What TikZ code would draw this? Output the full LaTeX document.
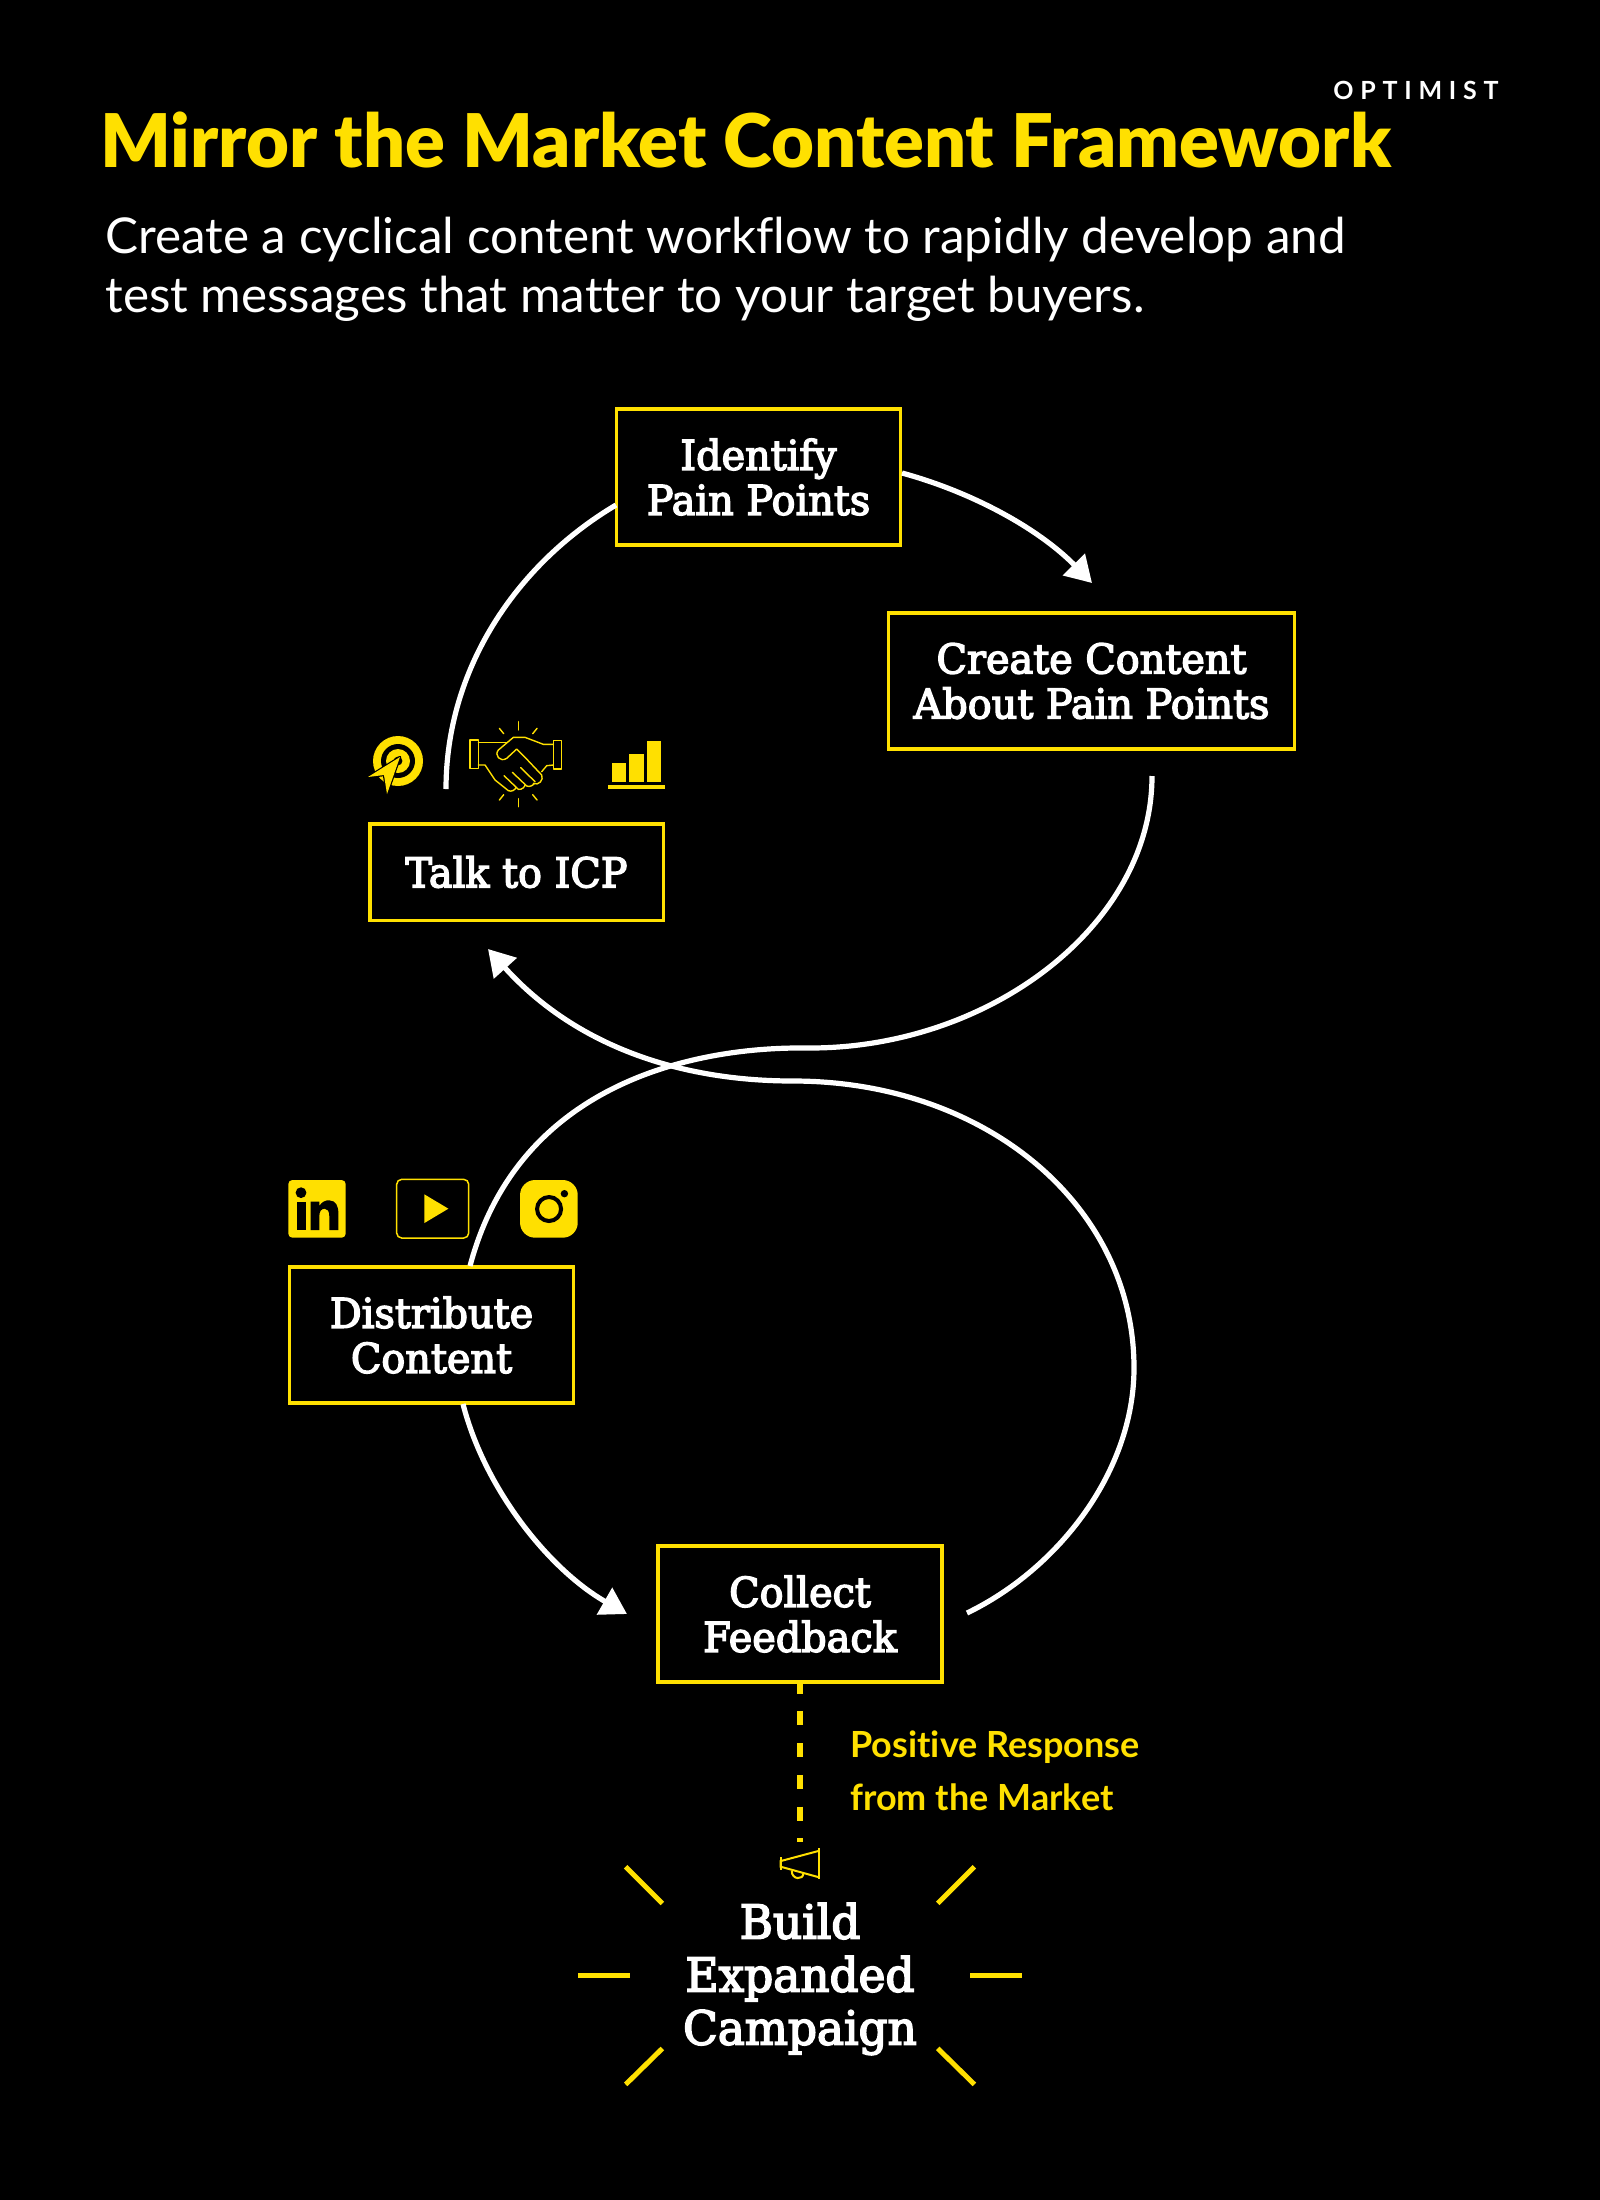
\documentclass[tikz,border=0pt]{standalone}
\usepackage{fontspec}
\usetikzlibrary{arrows.meta}
\setmainfont[Ligatures=CommonOff]{Lato}
\newfontfamily\boxfont[FakeBold=3.5, FakeStretch=0.97]{DejaVu Serif}
\newfontfamily\titlefont{Lato Black}
\newfontfamily\brandfont[LetterSpace=27]{Lato}
\definecolor{markyellow}{HTML}{FFE000}
\tikzset{
    stepbox/.style={draw=markyellow, line width=1.75pt, fill=black, text=white, align=center, minimum width=142pt, minimum height=68pt, inner sep=0pt, font=\boxfont\fontsize{20.5}{22.5}\selectfont},
    flow/.style={draw=white, line width=2.6pt},
    flowhead/.style={flow, -{Triangle[length=13pt, width=15pt]}},
    rayline/.style={draw=markyellow, line width=2.5pt},
    thinline/.style={draw=markyellow, line width=0.7pt, line join=round, line cap=round},
    iconfill/.style={fill=markyellow, draw=none}
}
\begin{document}
\begin{tikzpicture}[x=0.5pt, y=-0.5pt]
    \fill[black] (0,0) rectangle (1600,2200);
    \useasboundingbox (0,0) rectangle (1600,2200);

    % heading
    \node (title) [anchor=base west, inner sep=0pt, text=markyellow, font=\titlefont\fontsize{37}{40}\selectfont] at (100,167) {Mirror the Market Content Framework};
    \node (brand) [anchor=base west, inner sep=0pt, text=white, font=\brandfont\bfseries\fontsize{12.5}{14}\selectfont] at (1333,99) {OPTIMIST};
    \node (subone) [anchor=base west, inner sep=0pt, text=white, font=\fontsize{24.7}{29}\selectfont] at (105,253) {Create a cyclical content workflow to rapidly develop and};
    \node (subtwo) [anchor=base west, inner sep=0pt, text=white, font=\fontsize{24.7}{29}\selectfont] at (105,312) {test messages that matter to your target buyers.};

    % steps
    \node (identify) [stepbox] at (758.5,477) {Identify\\Pain Points};
    \node (create) [stepbox, minimum width=203pt] at (1091.5,681) {Create Content\\About Pain Points};
    \node (talk) [stepbox, minimum height=48.25pt, minimum width=146.75pt] at (516.5,872) {Talk to ICP};
    \node (distribute) [stepbox] at (431.5,1335) {Distribute\\Content};
    \node (collect) [stepbox] at (800,1614) {Collect\\Feedback};
    \node (campaign) [text=white, align=center, inner sep=0pt, font=\boxfont\fontsize{23.4}{26.5}\selectfont] at (800,1979) {Build\\Expanded\\Campaign};

    % free ends of the connectors
    \coordinate (talkup) at (446,789);
    \coordinate (identifyin) at (616,505);
    \coordinate (identifyout) at (902,473);
    \coordinate (createin) at (1092,583);
    \coordinate (createout) at (1152,776);
    \coordinate (distin) at (470,1266);
    \coordinate (distout) at (463,1404);
    \coordinate (collectin) at (627,1614);
    \coordinate (collectout) at (967,1613);
    \coordinate (talkin) at (488,949);

    \draw [flow] (talkup) .. controls (446,670) and (515,565) .. (identifyin);
    \draw [flowhead] (identifyout) .. controls (975,493) and (1040,530) .. (createin);
    \draw [flow] (createout) .. controls (1152,925) and (990,1048) .. (810,1048) .. controls (780,1048) and (530,1040) .. (distin);
    \draw [flowhead] (distout) .. controls (485,1490) and (550,1570) .. (collectin);
    \draw [flowhead] (collectout) .. controls (1060,1568) and (1134,1470) .. (1134,1368) .. controls (1134,1205) and (985,1081) .. (793,1081) .. controls (670,1081) and (570,1040) .. (talkin);
    \draw [draw=markyellow, line width=2.6pt, dash pattern=on 7pt off 8.85pt, dash phase=2pt] (collect.south) -- ++(0,158) coordinate (dashend);

    \node (response) [anchor=base west, inner sep=0pt, text=markyellow, align=left, font=\bfseries\fontsize{18}{26.5}\selectfont] at (850,1810) {Positive Response\\from the Market};

    % target icon
    \fill [iconfill] (398,761) circle (12.5pt);
    \fill [black] (398,761) circle (8.5pt);
    \fill [iconfill] (398,761) circle (6pt);
    \fill [black] (398,761) circle (2.2pt);
    \draw [black, line width=1.2pt, line join=round] (368,777) -- (400,757) -- (387,794) -- (384,775) -- cycle;
    \fill [iconfill] (368,777) -- (400,757) -- (387,794) -- (384,775) -- cycle;

    % handshake icon
    \begin{scope}[shift={(340,700)}, x=0.1667pt, y=-0.1667pt]
        \draw [thinline] (390,120) rectangle (415,205);
        \draw [thinline] (640,122) rectangle (665,207);
        \draw [thinline] (415,127) -- (500,127);
        \draw [thinline] (640,133) -- (610,133) -- (555,112) -- (520,112) -- (475,150) .. controls (462,165) and (480,188) .. (500,175) -- (530,147) -- (555,172) -- (605,225) .. controls (612,240) and (595,258) .. (580,250);
        \draw [thinline] (415,195) -- (435,195) -- (465,240) -- (505,272) .. controls (515,276) and (525,270) .. (528,262);
        \draw [thinline] (640,195) -- (620,197) -- (605,215);
        \draw [thinline] (492,227) -- (535,268) .. controls (545,270) and (555,260) .. (555,255);
        \draw [thinline] (517,217) -- (560,258) .. controls (570,262) and (580,255) .. (583,250);
        \draw [thinline] (542,203) -- (585,245);
        \draw [thinline] (535,65) -- (535,90);
        \draw [thinline] (478,85) -- (491,101);
        \draw [thinline] (591,85) -- (578,101);
        \draw [thinline] (535,296) -- (535,320);
        \draw [thinline] (491,284) -- (478,300);
        \draw [thinline] (578,284) -- (591,300);
    \end{scope}

    % bars icon
    \begin{scope}[shift={(340,700)}, x=0.1667pt, y=-0.1667pt]
        \fill [iconfill] (815,190) rectangle (858,247);
        \fill [iconfill] (868,163) rectangle (911,247);
        \fill [iconfill] (920,123) rectangle (963,247);
        \fill [iconfill] (804,254) rectangle (975,267);
    \end{scope}

    % channel icons
    \begin{scope}[shift={(270,1150)}, x=0.1667pt, y=-0.1667pt]
        \fill [iconfill, rounded corners=2pt] (55,90) rectangle (227,263);
        \fill [black] (93,128) circle (2.7pt);
        \fill [black] (80,155) rectangle (107,240);
        \fill [black] (122,155) -- (148,155) -- (148,168) .. controls (155,155) and (168,150) .. (178,151) .. controls (198,152) and (205,168) .. (205,190) -- (205,240) -- (178,240) -- (178,200) .. controls (178,182) and (172,176) .. (164,176) .. controls (154,176) and (148,184) .. (148,198) -- (148,240) -- (122,240) -- cycle;
        \draw [draw=markyellow, line width=0.75pt, rounded corners=2.5pt] (380,88) rectangle (596,264);
        \fill [iconfill] (463,133) -- (535,176) -- (463,219) -- cycle;
        \fill [iconfill, rounded corners=7.5pt] (750,90) rectangle (923,263);
        \draw [black, line width=2pt] (837,177) circle (6pt);
        \fill [black] (883,131) circle (1.85pt);
    \end{scope}

    % megaphone and rays
    \begin{scope}[shift={(560,1660)}, x=0.1667pt, y=-0.1667pt]
        \draw [draw=markyellow, line width=1pt] (778,565) -- (778,658);
        \draw [draw=markyellow, line width=1pt] (662,592) -- (662,630);
        \draw [draw=markyellow, line width=1pt] (778,572) -- (662,603) -- (662,620) -- (778,652);
        \draw [draw=markyellow, line width=1pt] (695,632) .. controls (695,660) and (730,660) .. (730,640);
        \draw [rayline] (197,620) -- (307,730);
        \draw [rayline] (1243,620) -- (1133,730);
        \draw [rayline] (55,947) -- (210,947);
        \draw [rayline] (1230,947) -- (1387,947);
        \draw [rayline] (197,1273) -- (307,1165);
        \draw [rayline] (1243,1273) -- (1133,1165);
    \end{scope}
\end{tikzpicture}
\end{document}
